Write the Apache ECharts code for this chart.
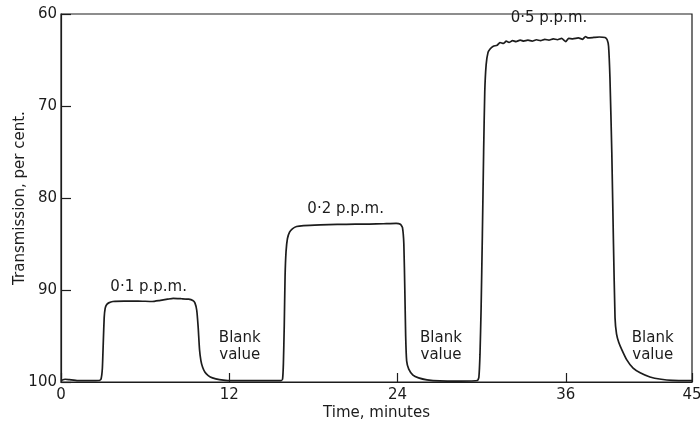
<!DOCTYPE html>
<html><head><meta charset="utf-8">
<script src="https://cdn.jsdelivr.net/npm/echarts@6/dist/echarts.min.js"></script>
<style>html,body{margin:0;padding:0;background:#fff}#c{width:700px;height:423px}</style>
</head><body><div id="c"></div>
<script>
// Time (minutes) and transmission (per cent)
const timeMin = [
  0, 0.3, 0.6, 1.2, 2.0, 2.7, 2.85, 2.95, 3.02, 3.08, 3.15, 3.25, 3.4, 3.7, 4.5, 5.5, 6.5, 7.0, 7.6, 8.0, 8.6, 9.1, 9.4, 9.55, 9.68, 9.78, 9.88, 9.98, 10.1, 10.27, 10.5, 10.8, 11.3, 11.9, 13, 14.5, 15.7,
  15.8, 15.86, 15.92, 15.98, 16.05, 16.15, 16.3, 16.5, 16.8, 17.3, 18.5, 19.7, 21.0, 22.0, 23.0, 23.9, 24.2, 24.35, 24.45, 24.52, 24.58, 24.65, 24.8, 25.1, 25.5, 26.1, 27.0, 28.5, 29.7,
  29.8, 29.88, 29.96, 30.05, 30.14, 30.22, 30.32, 30.45, 30.6, 30.83, 31.1, 31.3, 31.55, 31.75, 31.95, 32.2, 32.45, 32.74, 33.0, 33.3, 33.6, 33.9, 34.2, 34.5, 34.8, 35.1, 35.4, 35.7, 36.0, 36.2, 36.5, 36.9, 37.2, 37.4, 37.6, 38.0, 38.4, 38.8, 38.95, 39.05, 39.15, 39.28, 39.4, 39.51, 39.62, 39.78, 40.0, 40.35, 40.8, 41.3, 42.0, 42.8, 43.6, 45
];
const transmission = [
  99.84, 99.7, 99.75, 99.85, 99.86, 99.84, 99.7, 98.5, 95.5, 93.0, 92.0, 91.6, 91.4, 91.25, 91.2, 91.2, 91.25, 91.15, 91.0, 90.9, 90.95, 91.0, 91.15, 91.4, 92.2, 94.0, 96.5, 97.7, 98.4, 98.95, 99.3, 99.55, 99.75, 99.84, 99.86, 99.86, 99.84,
  99.7, 98.0, 94.0, 88.5, 85.8, 84.4, 83.7, 83.35, 83.1, 83.0, 82.92, 82.87, 82.85, 82.84, 82.8, 82.76, 82.85, 83.2, 85.0, 90.0, 95.0, 97.7, 98.6, 99.25, 99.55, 99.76, 99.88, 99.9, 99.84,
  99.5, 97.0, 92.0, 84.0, 75.0, 68.5, 65.5, 64.2, 63.8, 63.5, 63.4, 63.1, 63.2, 62.95, 63.1, 62.9, 63.0, 62.85, 62.95, 62.85, 62.95, 62.8, 62.9, 62.75, 62.85, 62.7, 62.8, 62.65, 63.0, 62.65, 62.7, 62.6, 62.75, 62.45, 62.6, 62.55, 62.5, 62.55, 62.8, 63.5, 67.0, 75.0, 85.0, 93.0, 94.8, 95.7, 96.5, 97.6, 98.5, 99.0, 99.45, 99.7, 99.82, 99.86
];
const xTickLabels = [0, 12, 24, 36, 45];
const yTickLabels = [60, 70, 80, 90, 100];
const annText = ['0·1 p.p.m.', 'Blank\nvalue', '0·2 p.p.m.', 'Blank\nvalue', '0·5 p.p.m.', 'Blank\nvalue'];
const annTime = [6.25, 12.75, 20.3, 27.1, 34.8, 42.2];
const annTrans = [89.65, 96.2, 81.25, 96.2, 60.5, 96.2];

const FONT = 'DejaVu Sans';
const INK = '#1c1c1c';
const chart = echarts.init(document.getElementById('c'), null, {renderer: 'canvas'});
chart.setOption({
  backgroundColor: '#ffffff',
  animation: false,
  grid: {left: 61, right: 8, top: 14, bottom: 41, outerBoundsMode: 'none', containLabel: false, show: true, borderColor: INK, borderWidth: 1.2, backgroundColor: 'transparent'},
  xAxis: {
    type: 'value', min: xTickLabels[0], max: xTickLabels[xTickLabels.length - 1],
    axisLine: {show: true, lineStyle: {color: INK, width: 1.2}},
    axisTick: {show: true, inside: true, length: 9, customValues: xTickLabels, lineStyle: {color: INK, width: 1.2}},
    axisLabel: {customValues: xTickLabels, color: INK, fontFamily: FONT, fontSize: 15, margin: 6},
    splitLine: {show: false},
    name: 'Time, minutes', nameLocation: 'middle', nameGap: 24, nameMoveOverlap: false,
    nameTextStyle: {color: INK, fontFamily: FONT, fontSize: 15, letterSpacing: 0.2}
  },
  yAxis: {
    type: 'value', inverse: true, min: yTickLabels[0], max: yTickLabels[yTickLabels.length - 1],
    interval: yTickLabels[1] - yTickLabels[0],
    axisLine: {show: true, lineStyle: {color: INK, width: 1.2}},
    axisTick: {show: true, inside: true, length: 10, lineStyle: {color: INK, width: 1.2}},
    axisLabel: {color: INK, fontFamily: FONT, fontSize: 15, margin: 4},
    splitLine: {show: false},
    name: 'Transmission, per cent.', nameLocation: 'middle', nameGap: 33, nameMoveOverlap: false,
    nameTextStyle: {color: INK, fontFamily: FONT, fontSize: 15, letterSpacing: 1}
  },
  series: [
    {
      type: 'line', showSymbol: false, smooth: 0.15,
      data: timeMin.map((t, i) => [t, transmission[i]]),
      lineStyle: {color: INK, width: 1.7}
    },
    {
      type: 'scatter', symbolSize: 0, silent: true, clip: false,
      itemStyle: {opacity: 1, color: INK},
      data: annText.map((s, i) => ({name: s, value: [annTime[i], annTrans[i]]})),
      label: {show: true, position: 'inside', formatter: p => p.name, color: INK, opacity: 1, textBorderWidth: 0, fontFamily: FONT, fontSize: 15, lineHeight: 17, letterSpacing: 1, align: 'center', verticalAlign: 'middle'}
    }
  ]
});
</script></body></html>
